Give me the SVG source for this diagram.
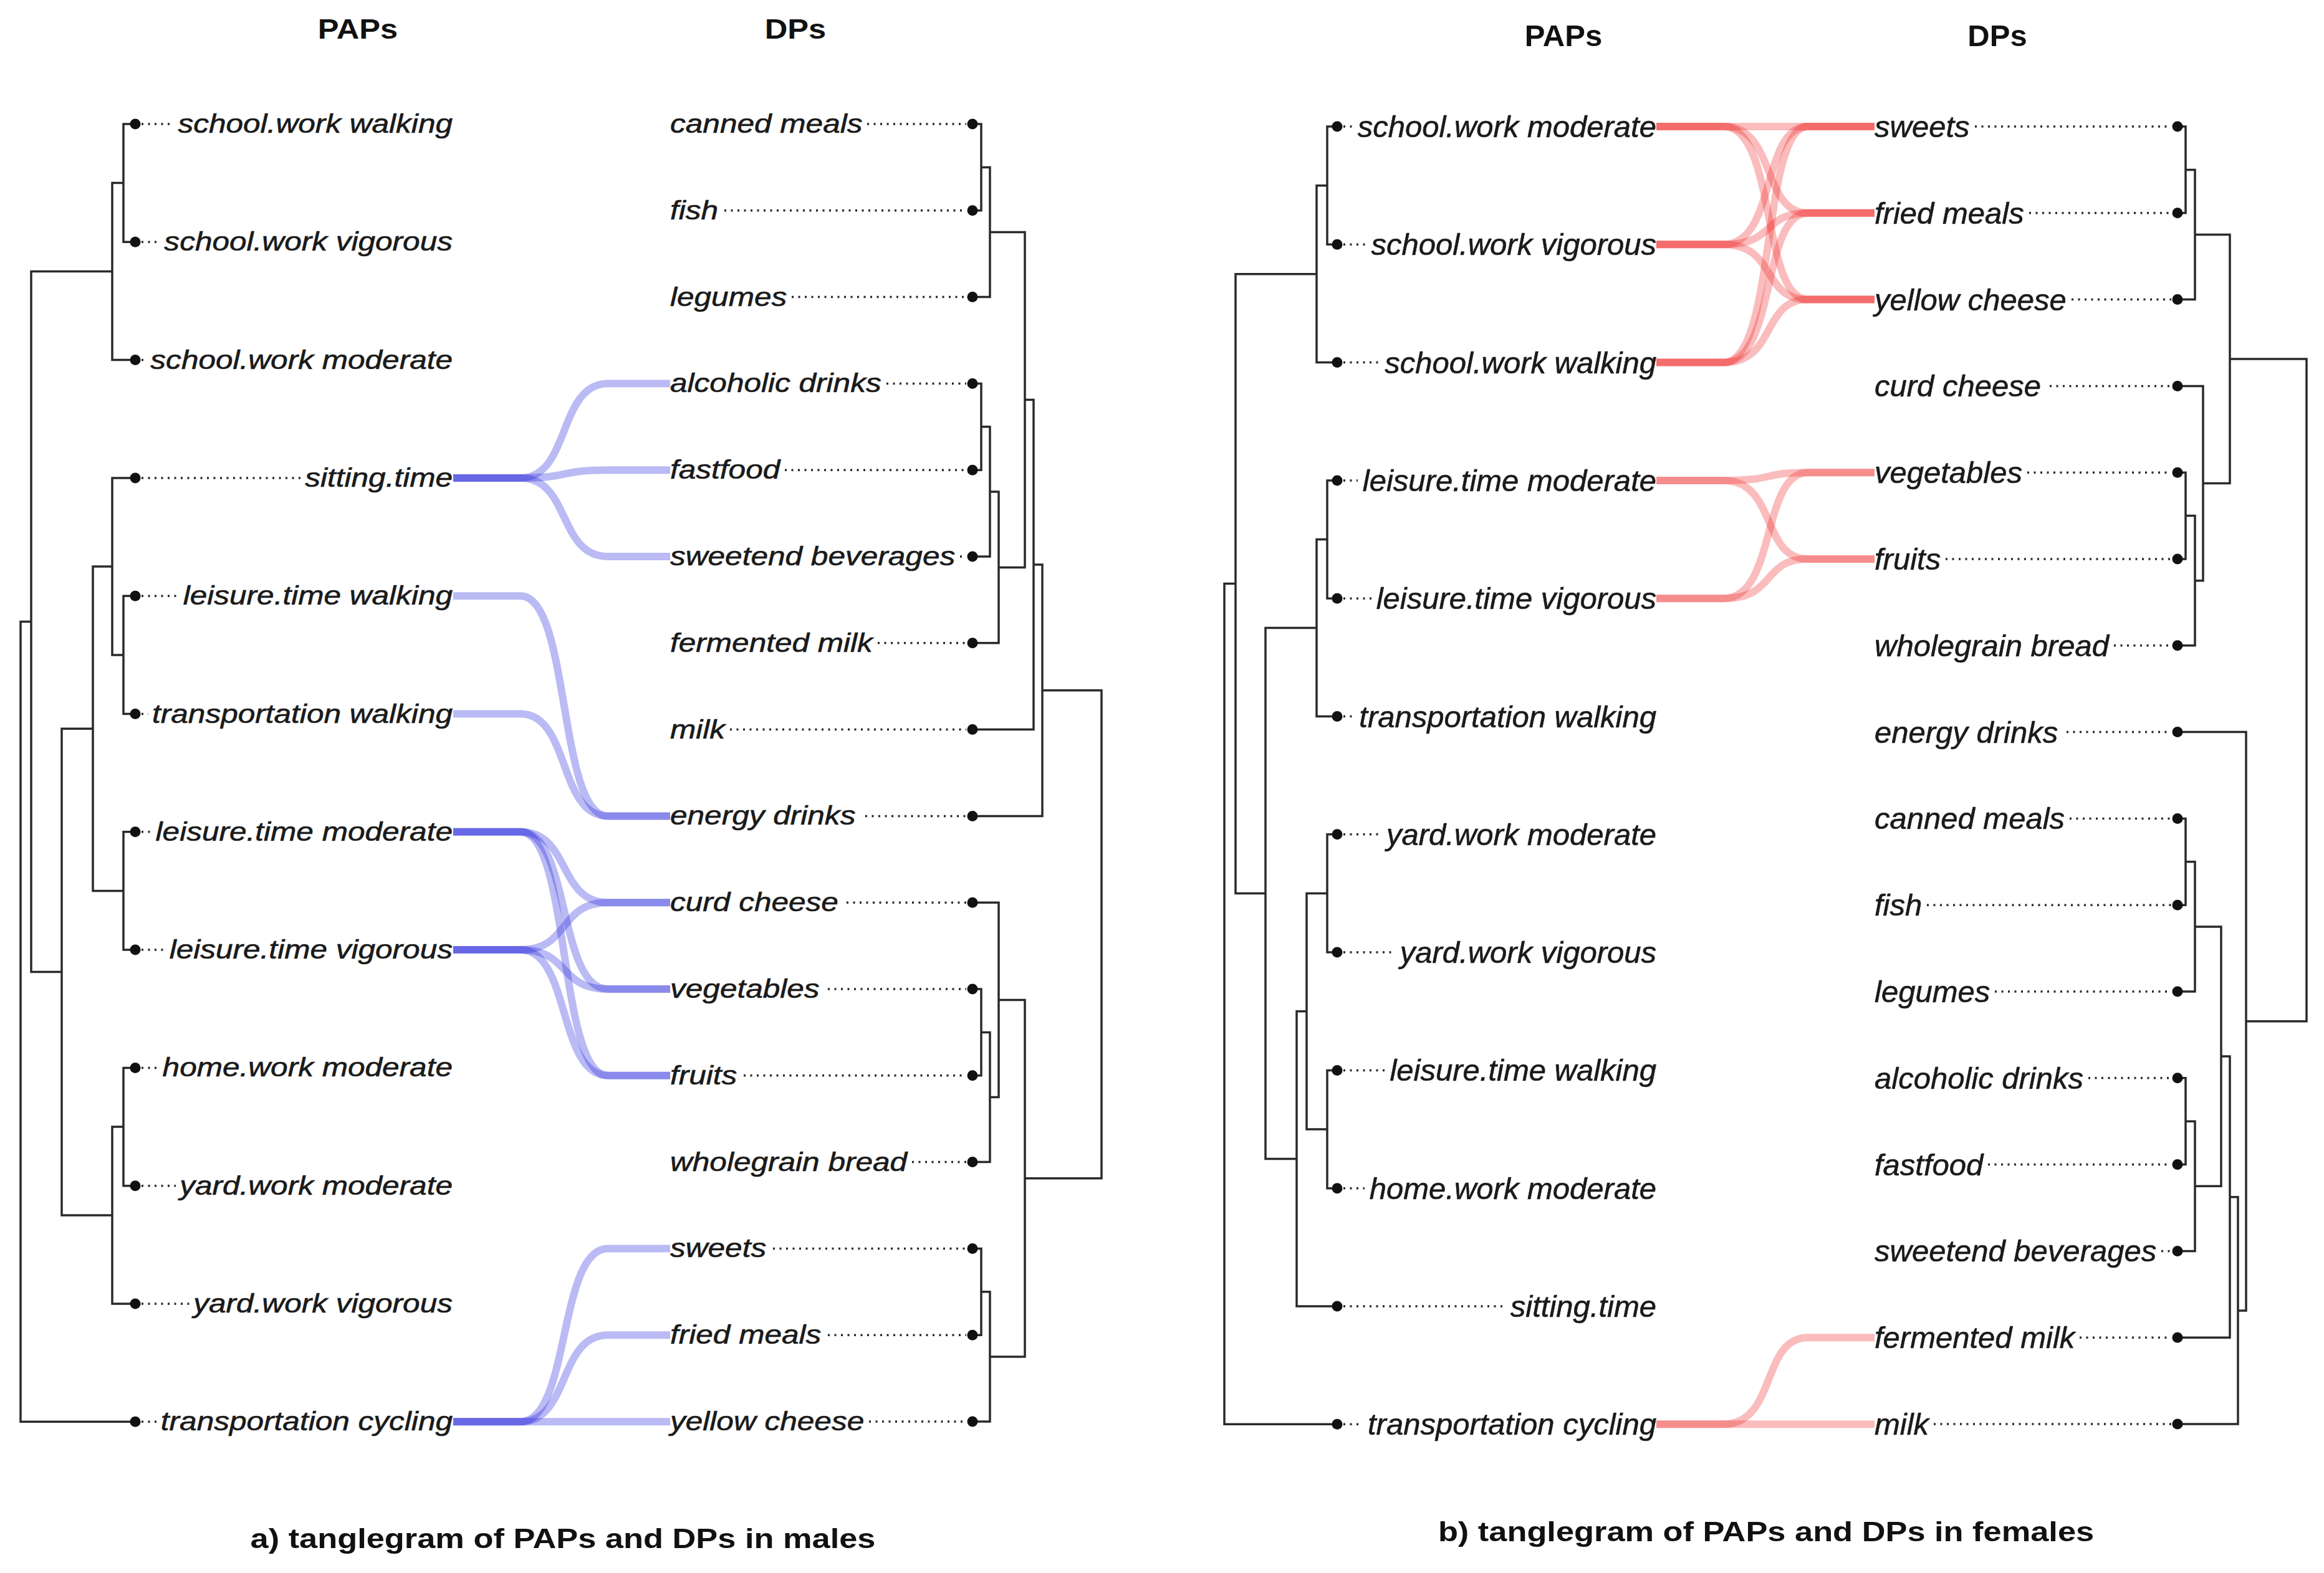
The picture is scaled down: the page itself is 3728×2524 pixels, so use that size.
<svg xmlns="http://www.w3.org/2000/svg" width="3728" height="2524" viewBox="0 0 3728 2524">
<style>
.lbl{font-family:"Liberation Sans",Arial,sans-serif;font-style:italic;fill:#1a1a1a;stroke:#1a1a1a;stroke-width:0.6}
.lL{font-size:42px}
.lR{font-size:49px}
.ttl{font-family:"Liberation Sans",Arial,sans-serif;font-weight:bold;fill:#111}
.tree{fill:none;stroke:#2a2a2a;stroke-width:3.5}
.dot{fill:#111}
.dots{fill:none;stroke:#2a2a2a;stroke-width:3.5;stroke-dasharray:3 7.5}
.cb{fill:none;stroke:#1c1cdc;stroke-opacity:0.3;stroke-width:12}
.cr{fill:none;stroke:#ee2020;stroke-opacity:0.3;stroke-width:12}
</style>
<rect width="3728" height="2524" fill="#fff"/>

<!-- titles -->
<g id="titles">
<text class="ttl" font-size="44" text-anchor="middle" transform="translate(574,62) scale(1.15,1)">PAPs</text>
<text class="ttl" font-size="44" text-anchor="middle" transform="translate(1276,62) scale(1.15,1)">DPs</text>
<text class="ttl" font-size="49" text-anchor="middle" x="2508" y="74">PAPs</text>
<text class="ttl" font-size="49" text-anchor="middle" x="3204" y="74">DPs</text>
<text class="ttl" font-size="44" text-anchor="middle" transform="translate(903,2484) scale(1.19,1)">a) tanglegram of PAPs and DPs in males</text>
<text class="ttl" font-size="44" text-anchor="middle" transform="translate(2833,2473) scale(1.19,1)">b) tanglegram of PAPs and DPs in females</text>
</g>

<!-- dendrograms -->
<g id="trees">
<path id="m-pap-tree" class="tree" d="M217,199 H198 V388.3 H217 M198,293.6 H180 V577.6 H217 M217,956.2 H198 V1145.5 H217 M217,766.9 H180 V1050.9 H198 M217,1334.8 H198 V1524.1 H217 M180,908.9 H149 V1429.5 H198 M217,1713.4 H198 V1902.7 H217 M198,1808.1 H180 V2092 H217 M149,1169.2 H99 V1950 H180 M180,435.6 H50 V1559.6 H99 M50,997.6 H33 V2281.3 H217"/>
<path id="m-dp-tree" class="tree" d="M1560,199 H1574 V337.8 H1560 M1574,268.4 H1588 V476.6 H1560 M1560,615.4 H1574 V754.2 H1560 M1574,684.8 H1588 V893 H1560 M1588,788.9 H1602 V1031.8 H1560 M1588,372.5 H1644 V910.4 H1602 M1644,641.5 H1658 V1170.6 H1560 M1658,906.1 H1672 V1309.4 H1560 M1560,1587 H1574 V1725.8 H1560 M1574,1656.4 H1588 V1864.6 H1560 M1560,1448.2 H1602 V1760.5 H1588 M1560,2003.4 H1574 V2142.2 H1560 M1574,2072.8 H1588 V2281 H1560 M1602,1604.4 H1644 V2176.9 H1588 M1672,1107.8 H1767 V1890.7 H1644"/>
<path id="f-pap-tree" class="tree" d="M2145,203 H2129 V392.3 H2145 M2129,297.7 H2112 V581.6 H2145 M2145,770.9 H2129 V960.2 H2145 M2129,865.6 H2112 V1149.5 H2145 M2145,1338.8 H2129 V1528.1 H2145 M2145,1717.4 H2129 V1906.7 H2145 M2129,1433.5 H2096 V1812.1 H2129 M2096,1622.8 H2080 V2096 H2145 M2112,1007.6 H2030 V1859.4 H2080 M2112,439.7 H1982 V1433.5 H2030 M1982,936.6 H1964 V2285.3 H2145"/>
<path id="f-dp-tree" class="tree" d="M3493,203 H3506 V341.8 H3493 M3506,272.4 H3521 V480.6 H3493 M3493,758.2 H3506 V897 H3493 M3506,827.6 H3521 V1035.8 H3493 M3493,619.4 H3534 V931.7 H3521 M3521,376.5 H3577 V775.6 H3534 M3493,1313.4 H3506 V1452.2 H3493 M3506,1382.8 H3521 V1591 H3493 M3493,1729.8 H3506 V1868.6 H3493 M3506,1799.2 H3521 V2007.4 H3493 M3521,1486.9 H3563 V1903.3 H3521 M3563,1695.1 H3577 V2146.2 H3493 M3577,1920.7 H3590 V2285 H3493 M3493,1174.6 H3603 V2102.9 H3590 M3577,576 H3700 V1638.7 H3603"/>
</g>

<!-- connectors -->
<g id="connectors">
<path class="cb" d="M727,766.9 H835 C915,766.9 895,615.4 975,615.4 H1075"/>
<path class="cb" d="M727,766.9 H835 C915,766.9 895,754.2 975,754.2 H1075"/>
<path class="cb" d="M727,766.9 H835 C915,766.9 895,893 975,893 H1075"/>
<path class="cb" d="M727,956.2 H835 C915,956.2 895,1309.4 975,1309.4 H1075"/>
<path class="cb" d="M727,1145.5 H835 C915,1145.5 895,1309.4 975,1309.4 H1075"/>
<path class="cb" d="M727,1334.8 H835 C915,1334.8 895,1448.2 975,1448.2 H1075"/>
<path class="cb" d="M727,1334.8 H835 C915,1334.8 895,1587 975,1587 H1075"/>
<path class="cb" d="M727,1334.8 H835 C915,1334.8 895,1725.8 975,1725.8 H1075"/>
<path class="cb" d="M727,1524.1 H835 C915,1524.1 895,1448.2 975,1448.2 H1075"/>
<path class="cb" d="M727,1524.1 H835 C915,1524.1 895,1587 975,1587 H1075"/>
<path class="cb" d="M727,1524.1 H835 C915,1524.1 895,1725.8 975,1725.8 H1075"/>
<path class="cb" d="M727,2281.3 H835 C915,2281.3 895,2003.4 975,2003.4 H1075"/>
<path class="cb" d="M727,2281.3 H835 C915,2281.3 895,2142.2 975,2142.2 H1075"/>
<path class="cb" d="M727,2281.3 H1075"/>

<path class="cr" d="M2657,203 H3007"/>
<path class="cr" d="M2657,203 H2765 C2850,203 2825,341.8 2900,341.8 H3007"/>
<path class="cr" d="M2657,203 H2765 C2850,203 2825,480.6 2900,480.6 H3007"/>
<path class="cr" d="M2657,392.3 H2765 C2850,392.3 2825,203 2900,203 H3007"/>
<path class="cr" d="M2657,392.3 H2765 C2850,392.3 2825,341.8 2900,341.8 H3007"/>
<path class="cr" d="M2657,392.3 H2765 C2850,392.3 2825,480.6 2900,480.6 H3007"/>
<path class="cr" d="M2657,581.6 H2765 C2850,581.6 2825,203 2900,203 H3007"/>
<path class="cr" d="M2657,581.6 H2765 C2850,581.6 2825,341.8 2900,341.8 H3007"/>
<path class="cr" d="M2657,581.6 H2765 C2850,581.6 2825,480.6 2900,480.6 H3007"/>
<path class="cr" d="M2657,770.9 H2765 C2850,770.9 2825,758.2 2900,758.2 H3007"/>
<path class="cr" d="M2657,770.9 H2765 C2850,770.9 2825,897 2900,897 H3007"/>
<path class="cr" d="M2657,960.2 H2765 C2850,960.2 2825,758.2 2900,758.2 H3007"/>
<path class="cr" d="M2657,960.2 H2765 C2850,960.2 2825,897 2900,897 H3007"/>
<path class="cr" d="M2657,2285.3 H2765 C2850,2285.3 2825,2146.2 2900,2146.2 H3007"/>
<path class="cr" d="M2657,2285.3 H3007"/>
</g>

<!-- males: PAP nodes -->
<g id="m-pap-school-work-walking"><line class="dots" x1="227" y1="199" x2="279" y2="199"/><circle class="dot" cx="217" cy="199" r="8.5"/><text class="lbl lL" text-anchor="end" transform="translate(726,213) scale(1.18,1)">school.work walking</text></g>
<g id="m-pap-school-work-vigorous"><line class="dots" x1="227" y1="388.3" x2="257" y2="388.3"/><circle class="dot" cx="217" cy="388.3" r="8.5"/><text class="lbl lL" text-anchor="end" transform="translate(726,402.3) scale(1.18,1)">school.work vigorous</text></g>
<g id="m-pap-school-work-moderate"><line class="dots" x1="227" y1="577.6" x2="236" y2="577.6"/><circle class="dot" cx="217" cy="577.6" r="8.5"/><text class="lbl lL" text-anchor="end" transform="translate(726,591.6) scale(1.18,1)">school.work moderate</text></g>
<g id="m-pap-sitting-time"><line class="dots" x1="227" y1="766.9" x2="483" y2="766.9"/><circle class="dot" cx="217" cy="766.9" r="8.5"/><text class="lbl lL" text-anchor="end" transform="translate(726,780.9) scale(1.18,1)">sitting.time</text></g>
<g id="m-pap-leisure-time-walking"><line class="dots" x1="227" y1="956.2" x2="287" y2="956.2"/><circle class="dot" cx="217" cy="956.2" r="8.5"/><text class="lbl lL" text-anchor="end" transform="translate(726,970.2) scale(1.18,1)">leisure.time walking</text></g>
<g id="m-pap-transportation-walking"><line class="dots" x1="227" y1="1145.5" x2="238" y2="1145.5"/><circle class="dot" cx="217" cy="1145.5" r="8.5"/><text class="lbl lL" text-anchor="end" transform="translate(726,1159.5) scale(1.18,1)">transportation walking</text></g>
<g id="m-pap-leisure-time-moderate"><line class="dots" x1="227" y1="1334.8" x2="243" y2="1334.8"/><circle class="dot" cx="217" cy="1334.8" r="8.5"/><text class="lbl lL" text-anchor="end" transform="translate(726,1348.8) scale(1.18,1)">leisure.time moderate</text></g>
<g id="m-pap-leisure-time-vigorous"><line class="dots" x1="227" y1="1524.1" x2="265" y2="1524.1"/><circle class="dot" cx="217" cy="1524.1" r="8.5"/><text class="lbl lL" text-anchor="end" transform="translate(726,1538.1) scale(1.18,1)">leisure.time vigorous</text></g>
<g id="m-pap-home-work-moderate"><line class="dots" x1="227" y1="1713.4" x2="254" y2="1713.4"/><circle class="dot" cx="217" cy="1713.4" r="8.5"/><text class="lbl lL" text-anchor="end" transform="translate(726,1727.4) scale(1.18,1)">home.work moderate</text></g>
<g id="m-pap-yard-work-moderate"><line class="dots" x1="227" y1="1902.7" x2="282" y2="1902.7"/><circle class="dot" cx="217" cy="1902.7" r="8.5"/><text class="lbl lL" text-anchor="end" transform="translate(726,1916.7) scale(1.18,1)">yard.work moderate</text></g>
<g id="m-pap-yard-work-vigorous"><line class="dots" x1="227" y1="2092" x2="304" y2="2092"/><circle class="dot" cx="217" cy="2092" r="8.5"/><text class="lbl lL" text-anchor="end" transform="translate(726,2106) scale(1.18,1)">yard.work vigorous</text></g>
<g id="m-pap-transportation-cycling"><line class="dots" x1="227" y1="2281.3" x2="252" y2="2281.3"/><circle class="dot" cx="217" cy="2281.3" r="8.5"/><text class="lbl lL" text-anchor="end" transform="translate(726,2295.3) scale(1.18,1)">transportation cycling</text></g>

<!-- males: DP nodes -->
<g id="m-dp-canned-meals"><line class="dots" x1="1391" y1="199" x2="1550" y2="199"/><circle class="dot" cx="1560" cy="199" r="8.5"/><text class="lbl lL" transform="translate(1075,213) scale(1.18,1)">canned meals</text></g>
<g id="m-dp-fish"><line class="dots" x1="1162" y1="337.8" x2="1550" y2="337.8"/><circle class="dot" cx="1560" cy="337.8" r="8.5"/><text class="lbl lL" transform="translate(1075,351.8) scale(1.18,1)">fish</text></g>
<g id="m-dp-legumes"><line class="dots" x1="1270" y1="476.6" x2="1550" y2="476.6"/><circle class="dot" cx="1560" cy="476.6" r="8.5"/><text class="lbl lL" transform="translate(1075,490.6) scale(1.18,1)">legumes</text></g>
<g id="m-dp-alcoholic-drinks"><line class="dots" x1="1422" y1="615.4" x2="1550" y2="615.4"/><circle class="dot" cx="1560" cy="615.4" r="8.5"/><text class="lbl lL" transform="translate(1075,629.4) scale(1.18,1)">alcoholic drinks</text></g>
<g id="m-dp-fastfood"><line class="dots" x1="1259" y1="754.2" x2="1550" y2="754.2"/><circle class="dot" cx="1560" cy="754.2" r="8.5"/><text class="lbl lL" transform="translate(1075,768.2) scale(1.18,1)">fastfood</text></g>
<g id="m-dp-sweetend-beverages"><line class="dots" x1="1540" y1="893" x2="1550" y2="893"/><circle class="dot" cx="1560" cy="893" r="8.5"/><text class="lbl lL" transform="translate(1075,907) scale(1.18,1)">sweetend beverages</text></g>
<g id="m-dp-fermented-milk"><line class="dots" x1="1408" y1="1031.8" x2="1550" y2="1031.8"/><circle class="dot" cx="1560" cy="1031.8" r="8.5"/><text class="lbl lL" transform="translate(1075,1045.8) scale(1.18,1)">fermented milk</text></g>
<g id="m-dp-milk"><line class="dots" x1="1171" y1="1170.6" x2="1550" y2="1170.6"/><circle class="dot" cx="1560" cy="1170.6" r="8.5"/><text class="lbl lL" transform="translate(1075,1184.6) scale(1.18,1)">milk</text></g>
<g id="m-dp-energy-drinks"><line class="dots" x1="1388" y1="1309.4" x2="1550" y2="1309.4"/><circle class="dot" cx="1560" cy="1309.4" r="8.5"/><text class="lbl lL" transform="translate(1075,1323.4) scale(1.18,1)">energy drinks</text></g>
<g id="m-dp-curd-cheese"><line class="dots" x1="1358" y1="1448.2" x2="1550" y2="1448.2"/><circle class="dot" cx="1560" cy="1448.2" r="8.5"/><text class="lbl lL" transform="translate(1075,1462.2) scale(1.18,1)">curd cheese</text></g>
<g id="m-dp-vegetables"><line class="dots" x1="1328" y1="1587" x2="1550" y2="1587"/><circle class="dot" cx="1560" cy="1587" r="8.5"/><text class="lbl lL" transform="translate(1075,1601) scale(1.18,1)">vegetables</text></g>
<g id="m-dp-fruits"><line class="dots" x1="1193" y1="1725.8" x2="1550" y2="1725.8"/><circle class="dot" cx="1560" cy="1725.8" r="8.5"/><text class="lbl lL" transform="translate(1075,1739.8) scale(1.18,1)">fruits</text></g>
<g id="m-dp-wholegrain-bread"><line class="dots" x1="1463" y1="1864.6" x2="1550" y2="1864.6"/><circle class="dot" cx="1560" cy="1864.6" r="8.5"/><text class="lbl lL" transform="translate(1075,1878.6) scale(1.18,1)">wholegrain bread</text></g>
<g id="m-dp-sweets"><line class="dots" x1="1240" y1="2003.4" x2="1550" y2="2003.4"/><circle class="dot" cx="1560" cy="2003.4" r="8.5"/><text class="lbl lL" transform="translate(1075,2017.4) scale(1.18,1)">sweets</text></g>
<g id="m-dp-fried-meals"><line class="dots" x1="1328" y1="2142.2" x2="1550" y2="2142.2"/><circle class="dot" cx="1560" cy="2142.2" r="8.5"/><text class="lbl lL" transform="translate(1075,2156.2) scale(1.18,1)">fried meals</text></g>
<g id="m-dp-yellow-cheese"><line class="dots" x1="1394" y1="2281" x2="1550" y2="2281"/><circle class="dot" cx="1560" cy="2281" r="8.5"/><text class="lbl lL" transform="translate(1075,2295) scale(1.18,1)">yellow cheese</text></g>

<!-- females: PAP nodes -->
<g id="f-pap-school-work-moderate"><line class="dots" x1="2155" y1="203" x2="2170" y2="203"/><circle class="dot" cx="2145" cy="203" r="8.5"/><text class="lbl lR" text-anchor="end" x="2657" y="220">school.work moderate</text></g>
<g id="f-pap-school-work-vigorous"><line class="dots" x1="2155" y1="392.3" x2="2191" y2="392.3"/><circle class="dot" cx="2145" cy="392.3" r="8.5"/><text class="lbl lR" text-anchor="end" x="2657" y="409.3">school.work vigorous</text></g>
<g id="f-pap-school-work-walking"><line class="dots" x1="2155" y1="581.6" x2="2213" y2="581.6"/><circle class="dot" cx="2145" cy="581.6" r="8.5"/><text class="lbl lR" text-anchor="end" x="2657" y="598.6">school.work walking</text></g>
<g id="f-pap-leisure-time-moderate"><line class="dots" x1="2155" y1="770.9" x2="2178" y2="770.9"/><circle class="dot" cx="2145" cy="770.9" r="8.5"/><text class="lbl lR" text-anchor="end" x="2657" y="787.9">leisure.time moderate</text></g>
<g id="f-pap-leisure-time-vigorous"><line class="dots" x1="2155" y1="960.2" x2="2200" y2="960.2"/><circle class="dot" cx="2145" cy="960.2" r="8.5"/><text class="lbl lR" text-anchor="end" x="2657" y="977.2">leisure.time vigorous</text></g>
<g id="f-pap-transportation-walking"><line class="dots" x1="2155" y1="1149.5" x2="2172" y2="1149.5"/><circle class="dot" cx="2145" cy="1149.5" r="8.5"/><text class="lbl lR" text-anchor="end" x="2657" y="1166.5">transportation walking</text></g>
<g id="f-pap-yard-work-moderate"><line class="dots" x1="2155" y1="1338.8" x2="2216" y2="1338.8"/><circle class="dot" cx="2145" cy="1338.8" r="8.5"/><text class="lbl lR" text-anchor="end" x="2657" y="1355.8">yard.work moderate</text></g>
<g id="f-pap-yard-work-vigorous"><line class="dots" x1="2155" y1="1528.1" x2="2238" y2="1528.1"/><circle class="dot" cx="2145" cy="1528.1" r="8.5"/><text class="lbl lR" text-anchor="end" x="2657" y="1545.1">yard.work vigorous</text></g>
<g id="f-pap-leisure-time-walking"><line class="dots" x1="2155" y1="1717.4" x2="2221" y2="1717.4"/><circle class="dot" cx="2145" cy="1717.4" r="8.5"/><text class="lbl lR" text-anchor="end" x="2657" y="1734.4">leisure.time walking</text></g>
<g id="f-pap-home-work-moderate"><line class="dots" x1="2155" y1="1906.7" x2="2189" y2="1906.7"/><circle class="dot" cx="2145" cy="1906.7" r="8.5"/><text class="lbl lR" text-anchor="end" x="2657" y="1923.7">home.work moderate</text></g>
<g id="f-pap-sitting-time"><line class="dots" x1="2155" y1="2096" x2="2415" y2="2096"/><circle class="dot" cx="2145" cy="2096" r="8.5"/><text class="lbl lR" text-anchor="end" x="2657" y="2113">sitting.time</text></g>
<g id="f-pap-transportation-cycling"><line class="dots" x1="2155" y1="2285.3" x2="2186" y2="2285.3"/><circle class="dot" cx="2145" cy="2285.3" r="8.5"/><text class="lbl lR" text-anchor="end" x="2657" y="2302.3">transportation cycling</text></g>

<!-- females: DP nodes -->
<g id="f-dp-sweets"><line class="dots" x1="3168" y1="203" x2="3483" y2="203"/><circle class="dot" cx="3493" cy="203" r="8.5"/><text class="lbl lR" x="3007" y="220">sweets</text></g>
<g id="f-dp-fried-meals"><line class="dots" x1="3255" y1="341.8" x2="3483" y2="341.8"/><circle class="dot" cx="3493" cy="341.8" r="8.5"/><text class="lbl lR" x="3007" y="358.8">fried meals</text></g>
<g id="f-dp-yellow-cheese"><line class="dots" x1="3323" y1="480.6" x2="3483" y2="480.6"/><circle class="dot" cx="3493" cy="480.6" r="8.5"/><text class="lbl lR" x="3007" y="497.6">yellow cheese</text></g>
<g id="f-dp-curd-cheese"><line class="dots" x1="3288" y1="619.4" x2="3483" y2="619.4"/><circle class="dot" cx="3493" cy="619.4" r="8.5"/><text class="lbl lR" x="3007" y="636.4">curd cheese</text></g>
<g id="f-dp-vegetables"><line class="dots" x1="3252" y1="758.2" x2="3483" y2="758.2"/><circle class="dot" cx="3493" cy="758.2" r="8.5"/><text class="lbl lR" x="3007" y="775.2">vegetables</text></g>
<g id="f-dp-fruits"><line class="dots" x1="3121" y1="897" x2="3483" y2="897"/><circle class="dot" cx="3493" cy="897" r="8.5"/><text class="lbl lR" x="3007" y="914">fruits</text></g>
<g id="f-dp-wholegrain-bread"><line class="dots" x1="3391" y1="1035.8" x2="3483" y2="1035.8"/><circle class="dot" cx="3493" cy="1035.8" r="8.5"/><text class="lbl lR" x="3007" y="1052.8">wholegrain bread</text></g>
<g id="f-dp-energy-drinks"><line class="dots" x1="3315" y1="1174.6" x2="3483" y2="1174.6"/><circle class="dot" cx="3493" cy="1174.6" r="8.5"/><text class="lbl lR" x="3007" y="1191.6">energy drinks</text></g>
<g id="f-dp-canned-meals"><line class="dots" x1="3320" y1="1313.4" x2="3483" y2="1313.4"/><circle class="dot" cx="3493" cy="1313.4" r="8.5"/><text class="lbl lR" x="3007" y="1330.4">canned meals</text></g>
<g id="f-dp-fish"><line class="dots" x1="3091" y1="1452.2" x2="3483" y2="1452.2"/><circle class="dot" cx="3493" cy="1452.2" r="8.5"/><text class="lbl lR" x="3007" y="1469.2">fish</text></g>
<g id="f-dp-legumes"><line class="dots" x1="3200" y1="1591" x2="3483" y2="1591"/><circle class="dot" cx="3493" cy="1591" r="8.5"/><text class="lbl lR" x="3007" y="1608">legumes</text></g>
<g id="f-dp-alcoholic-drinks"><line class="dots" x1="3350" y1="1729.8" x2="3483" y2="1729.8"/><circle class="dot" cx="3493" cy="1729.8" r="8.5"/><text class="lbl lR" x="3007" y="1746.8">alcoholic drinks</text></g>
<g id="f-dp-fastfood"><line class="dots" x1="3189" y1="1868.6" x2="3483" y2="1868.6"/><circle class="dot" cx="3493" cy="1868.6" r="8.5"/><text class="lbl lR" x="3007" y="1885.6">fastfood</text></g>
<g id="f-dp-sweetend-beverages"><line class="dots" x1="3467" y1="2007.4" x2="3483" y2="2007.4"/><circle class="dot" cx="3493" cy="2007.4" r="8.5"/><text class="lbl lR" x="3007" y="2024.4">sweetend beverages</text></g>
<g id="f-dp-fermented-milk"><line class="dots" x1="3336" y1="2146.2" x2="3483" y2="2146.2"/><circle class="dot" cx="3493" cy="2146.2" r="8.5"/><text class="lbl lR" x="3007" y="2163.2">fermented milk</text></g>
<g id="f-dp-milk"><line class="dots" x1="3102" y1="2285" x2="3483" y2="2285"/><circle class="dot" cx="3493" cy="2285" r="8.5"/><text class="lbl lR" x="3007" y="2302">milk</text></g>
</svg>
